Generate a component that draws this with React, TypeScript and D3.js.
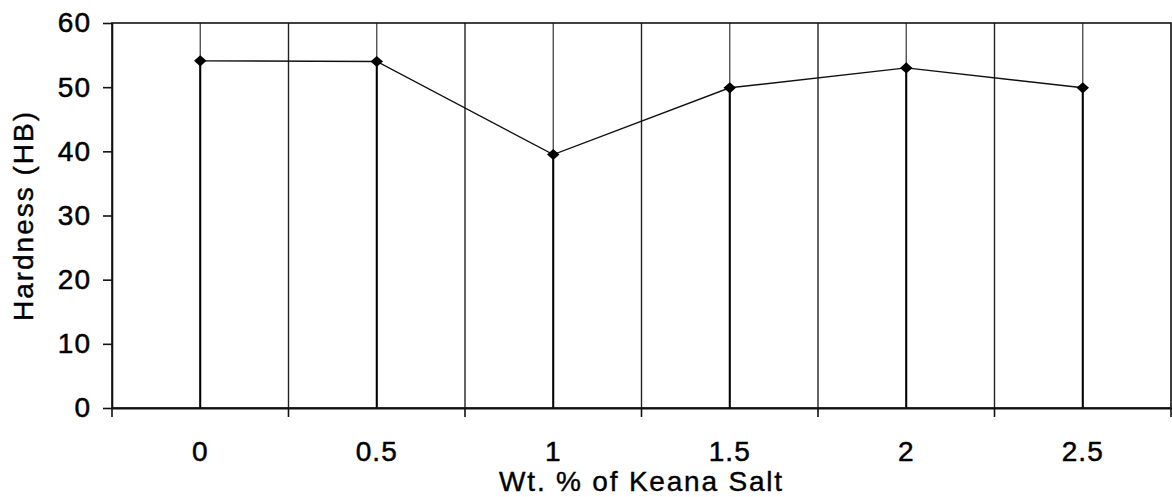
import React, { useEffect, useRef } from 'react';
import * as d3 from 'd3';

const categories = ['0', '0.5', '1', '1.5', '2', '2.5'];
const hardness = [54.1, 54, 39.5, 49.9, 53, 49.9];
const yTicks = [0, 10, 20, 30, 40, 50, 60];

const App: React.FC = () => {
  const svgRef = useRef<SVGSVGElement>(null);

  useEffect(() => {
    if (!svgRef.current) return;
    const svg = d3.select(svgRef.current);
    svg.selectAll('*').remove();

    const margin = { top: 23, right: 1, bottom: 89, left: 112 };
    const width = 1172 - margin.left - margin.right;
    const height = 497 - margin.top - margin.bottom;
    const font = "'Liberation Sans', Arial, sans-serif";

    const g = svg.append('g').attr('transform', `translate(${margin.left},${margin.top})`);

    const x = d3.scaleBand().domain(categories).range([0, width]).padding(0);
    const y = d3.scaleLinear().domain([0, 60]).range([height, 0]);
    const cx = (c: string) => (x(c) || 0) + x.bandwidth() / 2;

    // vertical grid at category boundaries
    const bounds = categories.map(c => x(c) || 0).slice(1);
    g.selectAll('.vb')
      .data(bounds)
      .enter().append('line')
      .attr('x1', d => d).attr('x2', d => d)
      .attr('y1', 0).attr('y2', height)
      .attr('stroke', '#222').attr('stroke-width', 1.4);

    // vertical grid at category centers
    g.selectAll('.vc')
      .data(categories)
      .enter().append('line')
      .attr('x1', d => cx(d)).attr('x2', d => cx(d))
      .attr('y1', 0).attr('y2', height)
      .attr('stroke', '#444').attr('stroke-width', 1.3);

    // drop lines from points
    g.selectAll('.drop')
      .data(hardness)
      .enter().append('line')
      .attr('x1', (_, i) => cx(categories[i])).attr('x2', (_, i) => cx(categories[i]))
      .attr('y1', d => y(d)).attr('y2', height)
      .attr('stroke', '#000').attr('stroke-width', 2);

    // frame
    g.append('rect')
      .attr('x', 0).attr('y', 0).attr('width', width).attr('height', height)
      .attr('fill', 'none').attr('stroke', '#111').attr('stroke-width', 1.6);

    // y axis
    const yAxis = g.append('g')
      .call(d3.axisLeft(y).tickValues(yTicks).tickSize(9).tickSizeOuter(0).tickPadding(12));
    yAxis.select('.domain').attr('stroke', '#111').attr('stroke-width', 1.6);
    yAxis.selectAll('line').attr('stroke', '#111').attr('stroke-width', 1.6);
    yAxis.selectAll('text')
      .attr('font-family', font).attr('font-size', 28).attr('fill', '#000')
      .attr('letter-spacing', 1)
      .attr('stroke', '#000').attr('stroke-width', 0.5);

    // x axis
    const xAxis = g.append('g')
      .attr('transform', `translate(0,${height})`)
      .call(d3.axisBottom(x).tickSize(0).tickPadding(33));
    xAxis.select('.domain').attr('stroke', '#111').attr('stroke-width', 1.8);
    xAxis.selectAll('text')
      .attr('font-family', font).attr('font-size', 28).attr('fill', '#000')
      .attr('letter-spacing', 1)
      .attr('stroke', '#000').attr('stroke-width', 0.5);
    const xTickPos = [0, ...bounds, width];
    xAxis.selectAll('.xt')
      .data(xTickPos)
      .enter().append('line')
      .attr('x1', d => d).attr('x2', d => d)
      .attr('y1', 0).attr('y2', 9)
      .attr('stroke', '#111').attr('stroke-width', 1.6);

    // data line
    const line = d3.line<number>()
      .x((_, i) => cx(categories[i]))
      .y(d => y(d));
    g.append('path')
      .datum(hardness)
      .attr('fill', 'none')
      .attr('stroke', '#111')
      .attr('stroke-width', 1.4)
      .attr('d', line);

    // markers
    g.selectAll('.pt')
      .data(hardness)
      .enter().append('path')
      .attr('d', d3.symbol(d3.symbolSquare, 62)())
      .attr('transform', (d, i) => `translate(${cx(categories[i])},${y(d)}) scale(1.12,1) rotate(45)`)
      .attr('fill', '#000');

    // axis titles
    svg.append('text')
      .attr('x', margin.left + width / 2)
      .attr('y', 491)
      .attr('text-anchor', 'middle')
      .attr('font-family', font)
      .attr('font-size', 28)
      .attr('letter-spacing', 1.8)
      .attr('fill', '#000')
      .attr('stroke', '#000').attr('stroke-width', 0.4)
      .text('Wt. % of Keana Salt');

    svg.append('text')
      .attr('transform', `translate(33,${margin.top + height / 2}) rotate(-90)`)
      .attr('text-anchor', 'middle')
      .attr('font-family', font)
      .attr('font-size', 28)
      .attr('letter-spacing', 2)
      .attr('fill', '#000')
      .attr('stroke', '#000').attr('stroke-width', 0.4)
      .text('Hardness (HB)');
  }, []);

  return (
    <svg
      ref={svgRef}
      width={1172}
      height={497}
      style={{ position: 'absolute', left: 0, top: 0, background: '#fff' }}
    />
  );
};

export default App;
